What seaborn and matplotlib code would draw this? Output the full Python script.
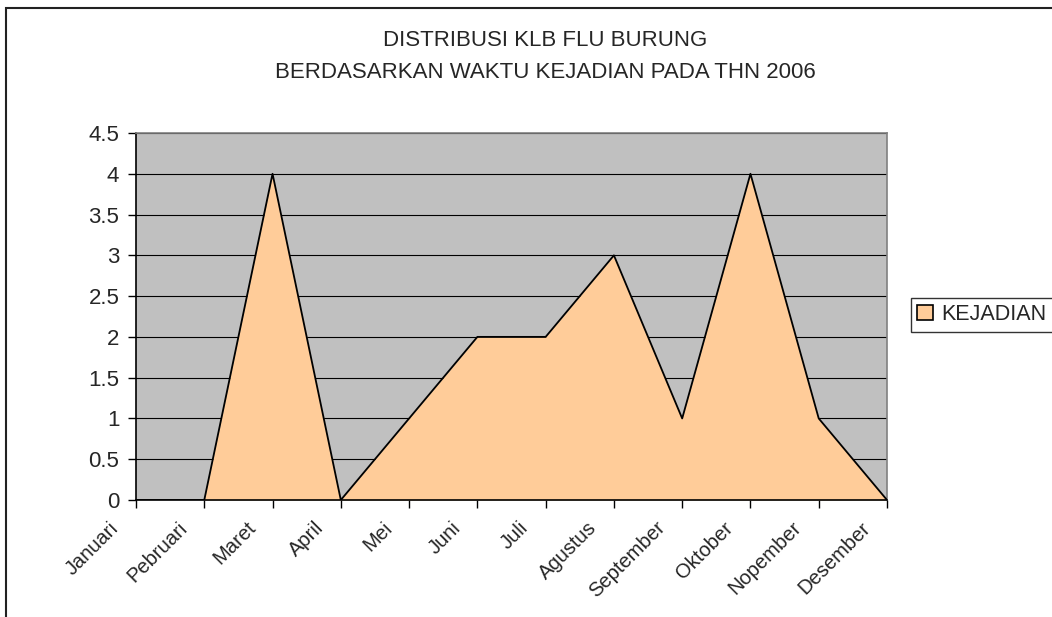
import matplotlib
matplotlib.use("Agg")
import matplotlib.pyplot as plt
import matplotlib.transforms as mtransforms
import seaborn as sns
import pandas as pd
from matplotlib.patches import Rectangle, Patch

months = ["Januari", "Pebruari", "Maret", "April", "Mei", "Juni", "Juli",
          "Agustus", "September", "Oktober", "Nopember", "Desember"]
kejadian = [0, 0, 4, 0, 1, 2, 2, 3, 1, 4, 1, 0]
yticks = [0, 0.5, 1, 1.5, 2, 2.5, 3, 3.5, 4, 4.5]
title = "DISTRIBUSI KLB FLU BURUNG\nBERDASARKAN WAKTU KEJADIAN PADA THN 2006"
series_name = "KEJADIAN"

df = pd.DataFrame({"pos": range(len(months)), "bulan": months, "val": kejadian})

sns.set_style("white")
plt.rcParams["font.family"] = ["Liberation Sans", "DejaVu Sans"]

fig = plt.figure(figsize=(10.52, 6.17), dpi=100)
W, H = 1052, 617
ax = fig.add_axes([136 / W, 1 - 500 / H, (887 - 136) / W, (500 - 133) / H])
ax.set_facecolor("#C0C0C0")

for y in yticks:
    ax.axhline(y, color="black", lw=0.8, zorder=1)

ax.fill_between(df["pos"], 0, df["val"], color="#FFCC99", zorder=2, lw=0)
sns.lineplot(data=df, x="pos", y="val", color="black", lw=1.3, ax=ax, zorder=3)

ax.set_xlim(0, len(months) - 1)
ax.set_ylim(0, 4.5)
ax.set_yticks(yticks)
ax.set_yticklabels([("%g" % v) for v in yticks], fontsize=16)
ax.set_xticks(df["pos"])
ax.set_xticklabels(months, rotation=45, ha="right", va="center",
                   rotation_mode="anchor", fontsize=14.5)
ax.set_xlabel("")
ax.set_ylabel("")
ax.tick_params(axis="both", direction="out", length=6, width=1, color="black",
               pad=4, bottom=True, left=True)
ax.tick_params(axis="y", pad=6)

offset = mtransforms.ScaledTranslation(-0.2, -0.11, fig.dpi_scale_trans)
for lbl in ax.get_xticklabels():
    lbl.set_transform(lbl.get_transform() + offset)

for s in ["left", "bottom"]:
    ax.spines[s].set_color("black")
    ax.spines[s].set_linewidth(1.2)
for s in ["top", "right"]:
    ax.spines[s].set_color("#808080")
    ax.spines[s].set_linewidth(1.2)

fig.text(0.518, 1 - 56.5 / H, title, ha="center", va="center", fontsize=16, linespacing=1.72)

handle = Patch(facecolor="#FFCC99", edgecolor="black", lw=1.2)
leg = fig.legend([handle], [series_name], loc="upper left",
                 bbox_to_anchor=(911 / W, 1 - 298 / H), fontsize=15.5,
                 frameon=True, fancybox=False, handlelength=0.7, handleheight=0.7,
                 handletextpad=0.4, borderpad=0.3, borderaxespad=0)
leg.get_frame().set_edgecolor("black")
leg.get_frame().set_linewidth(1)

border = Rectangle((6 / W, -0.1), 1.2, 1 - 8 / H + 0.1, transform=fig.transFigure,
                   fill=False, edgecolor="#222222", lw=1.5)
fig.add_artist(border)

fig.savefig("out.png", dpi=100, facecolor="white")
